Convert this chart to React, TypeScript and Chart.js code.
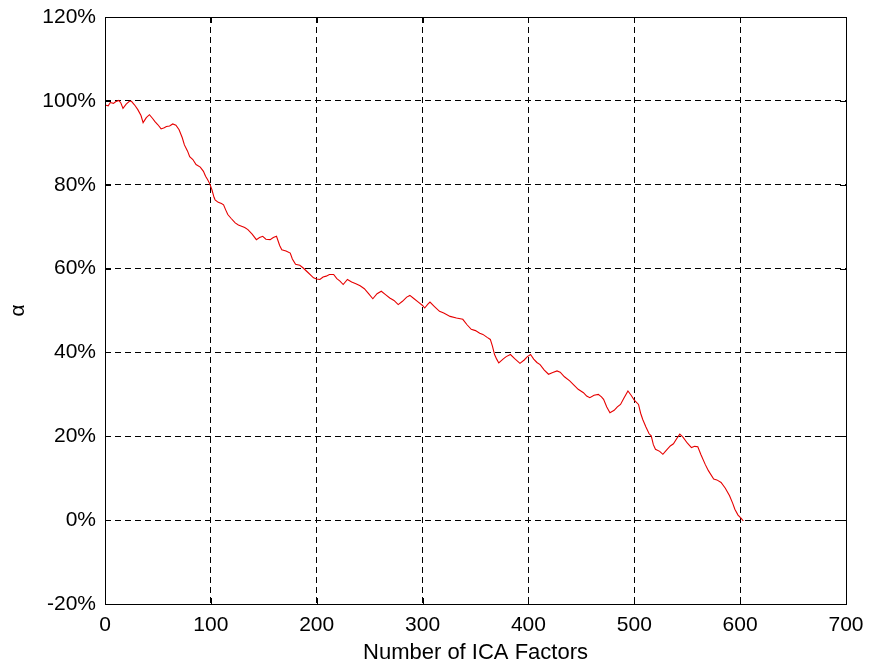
import React, { useEffect, useRef } from "react";
import { Chart, registerables } from "chart.js";

Chart.register(...registerables);

// Number of ICA factors (x) and alpha in percent (y)
const factors = [
  0, 3, 5, 8, 10, 13, 15, 17, 20, 23, 25, 28, 31, 34, 36, 39, 42, 45, 47, 50,
  53, 56, 58, 61, 64, 67, 70, 73, 75, 78, 80, 83, 86, 90, 93, 95, 97, 99, 101, 103,
  104, 107, 110, 112, 114, 116, 119, 123, 126, 129, 132, 135, 139, 143, 146, 149, 152, 156, 159, 162,
  165, 167, 171, 175, 177, 180, 184, 187, 192, 197, 200, 203, 206, 209, 212, 216, 219, 222, 225, 229,
  233, 237, 241, 245, 249, 253, 257, 261, 265, 269, 273, 277, 281, 285, 288, 292, 296, 300, 302, 305,
  307, 311, 316, 320, 326, 332, 338, 342, 346, 350, 354, 357, 361, 364, 366, 368, 370, 372, 376, 379,
  383, 387, 392, 396, 399, 402, 405, 408, 411, 415, 419, 423, 427, 430, 434, 439, 443, 447, 452, 455,
  458, 462, 466, 469, 471, 474, 477, 481, 484, 487, 490, 494, 497, 500, 504, 506, 508, 511, 514, 516,
  518, 520, 524, 527, 530, 534, 537, 540, 543, 546, 550, 554, 557, 560, 563, 567, 570, 575, 578, 582,
  586, 590, 593, 595, 598, 601, 603,
];

const alphaPct = [
  99.0, 98.8, 99.6, 99.4, 99.8, 100.1, 99.5, 98.2, 99.2, 99.9, 99.9, 99.0, 97.9, 96.5, 94.8, 96.0, 96.7, 95.8, 95.1, 94.3,
  93.3, 93.6, 93.9, 94.0, 94.5, 94.2, 93.1, 91.2, 89.5, 88.0, 86.7, 86.0, 84.8, 84.2, 83.2, 82.0, 81.2, 80.2, 78.8, 77.0,
  76.4, 75.8, 75.5, 75.2, 74.0, 72.9, 72.0, 70.9, 70.4, 70.1, 69.8, 69.3, 68.2, 66.9, 67.4, 67.7, 67.0, 66.9, 67.4, 67.7,
  65.5, 64.5, 64.2, 63.7, 62.3, 61.0, 60.8, 60.2, 59.0, 57.8, 57.5, 57.4, 58.0, 58.2, 58.6, 58.6, 57.6, 57.0, 56.2, 57.4,
  56.8, 56.4, 55.9, 55.2, 54.0, 52.8, 54.0, 54.6, 53.8, 53.0, 52.4, 51.4, 52.2, 53.2, 53.6, 52.8, 52.0, 51.2, 50.6, 51.5,
  52.0, 51.0, 49.8, 49.4, 48.6, 48.2, 47.9, 46.6, 45.5, 45.2, 44.6, 44.3, 43.6, 43.1, 41.5, 39.5, 38.4, 37.5, 38.4, 39.0,
  39.5, 38.5, 37.4, 38.2, 39.0, 39.5, 38.4, 37.6, 37.1, 35.8, 34.8, 35.2, 35.6, 35.3, 34.2, 33.2, 32.2, 31.2, 30.4, 29.6,
  29.2, 29.8, 30.0, 29.4, 28.8, 27.0, 25.6, 26.2, 27.0, 27.6, 29.0, 30.8, 29.8, 28.6, 27.6, 25.5, 24.0, 22.2, 20.6, 20.1,
  18.0, 16.9, 16.4, 15.7, 16.6, 17.7, 18.2, 19.4, 20.5, 19.8, 18.4, 17.3, 17.6, 17.5, 15.6, 13.3, 11.8, 9.8, 9.6, 9.0,
  7.6, 5.8, 4.0, 2.6, 1.2, 0.4, -0.2,
];

const xTicks = [0, 100, 200, 300, 400, 500, 600, 700];
const yTicks = [-20, 0, 20, 40, 60, 80, 100, 120];

const xTitle = "Number of ICA Factors";
const yTitle = "α";

const FONT = "'Liberation Sans', Arial, sans-serif";

const boxPlugin = {
  id: "boxPlugin",
  afterDraw(chart: any) {
    const { ctx, chartArea, scales } = chart;
    const { left, right, top, bottom } = chartArea;
    ctx.save();
    ctx.strokeStyle = "#000";
    ctx.lineWidth = 1;
    ctx.setLineDash([]);
    ctx.beginPath();
    const tl = 6;
    xTicks.forEach((v) => {
      const px = Math.round(scales.x.getPixelForValue(v)) + 0.5;
      ctx.moveTo(px, bottom);
      ctx.lineTo(px, bottom - tl);
      ctx.moveTo(px, top);
      ctx.lineTo(px, top + tl);
    });
    yTicks.forEach((v) => {
      const py = Math.round(scales.y.getPixelForValue(v)) + 0.5;
      ctx.moveTo(left, py);
      ctx.lineTo(left + tl, py);
      ctx.moveTo(right, py);
      ctx.lineTo(right - tl, py);
    });
    ctx.stroke();
    ctx.strokeRect(
      Math.round(left) + 0.5,
      Math.round(top) + 0.5,
      Math.round(right - left),
      Math.round(bottom - top)
    );
    ctx.restore();
  },
};

export default function App() {
  const ref = useRef<HTMLCanvasElement>(null);

  useEffect(() => {
    document.body.style.margin = "0";
    const canvas = ref.current;
    if (!canvas) return;
    const points = factors.map((x, i) => ({ x, y: alphaPct[i] }));
    const chart = new Chart(canvas, {
      type: "line",
      data: {
        datasets: [
          {
            data: points,
            borderColor: "#e60000",
            borderWidth: 1.1,
            pointRadius: 0,
            tension: 0,
            fill: false,
          },
        ],
      },
      options: {
        animation: false,
        responsive: false,
        devicePixelRatio: 1,
        layout: { padding: { top: 17, right: 23, left: 0, bottom: 0 } },
        plugins: {
          legend: { display: false },
          tooltip: { enabled: false },
        },
        scales: {
          x: {
            type: "linear",
            min: 0,
            max: 700,
            afterBuildTicks: (s: any) => {
              s.ticks = xTicks.map((v) => ({ value: v }));
            },
            afterFit: (s: any) => {
              s.height = 60;
              s.paddingLeft = 0;
              s.paddingRight = 0;
            },
            ticks: {
              color: "#000",
              padding: 9,
              font: { family: FONT, size: 21 },
              maxRotation: 0,
              autoSkip: false,
            },
            grid: {
              color: "#000",
              lineWidth: 1,
              drawTicks: false,
            },
            border: { display: false, dash: [6, 4] },
            title: {
              display: true,
              text: xTitle,
              color: "#000",
              font: { family: FONT, size: 22, lineHeight: 1 },
              padding: { top: 0, bottom: 0 },
            },
          },
          y: {
            type: "linear",
            min: -20,
            max: 120,
            afterBuildTicks: (s: any) => {
              s.ticks = yTicks.map((v) => ({ value: v }));
            },
            afterFit: (s: any) => {
              s.width = 105;
              s.paddingTop = 0;
              s.paddingBottom = 0;
            },
            ticks: {
              color: "#000",
              padding: 9,
              font: { family: FONT, size: 21 },
              callback: (v: any) => `${v}%`,
              autoSkip: false,
            },
            grid: {
              color: "#000",
              lineWidth: 1,
              drawTicks: false,
            },
            border: { display: false, dash: [6, 4] },
            title: {
              display: true,
              text: yTitle,
              color: "#000",
              font: { family: FONT, size: 21, lineHeight: 1 },
              padding: { top: 8, bottom: 0 },
            },
          },
        },
      },
      plugins: [boxPlugin],
    });
    return () => chart.destroy();
  }, []);

  return (
    <div style={{ position: "absolute", left: 0, top: 0, width: 869, height: 664 }}>
      <canvas ref={ref} width={869} height={664} style={{ width: 869, height: 664 }} />
    </div>
  );
}
